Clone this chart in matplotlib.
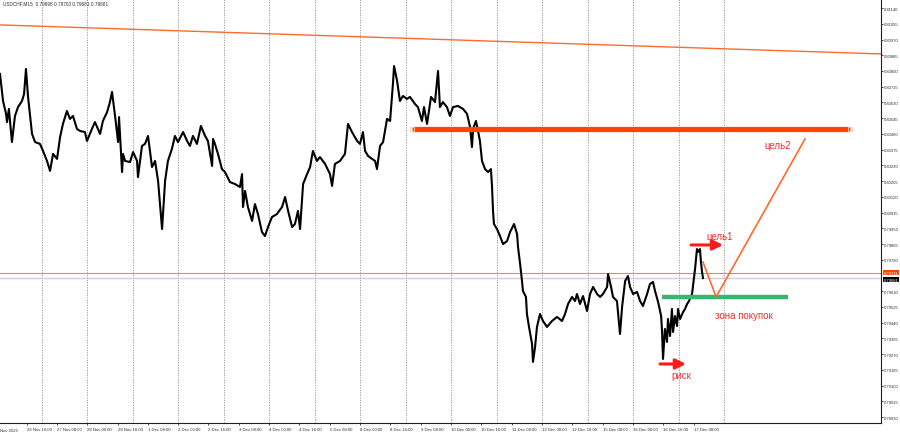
import matplotlib
matplotlib.use('Agg')
from matplotlib import pyplot as plt
from matplotlib.transforms import blended_transform_factory

plt.rcParams['font.family'] = ['Liberation Sans', 'DejaVu Sans']

# time axis: trading hours counted from 26 Nov 00:00 (weekends removed)
hours = [2.0, 3.6, 5.2, 5.7, 6.7, 8.3, 9.9, 11.5, 13.6, 14.7, 15.7, 16.8, 18.9, 20.5,
         23.1, 24.7, 26.8, 28.4, 30.0, 32.1, 33.7, 35.2, 37.3, 38.9, 40.5, 42.6, 44.2,
         46.8, 47.9, 50.5, 52.1, 54.8, 56.3, 58.5, 60.0, 61.1, 62.7, 64.3, 64.8, 66.4,
         66.9, 68.0, 70.6, 72.2, 74.3, 74.8, 76.9, 78.5, 80.1, 82.2, 83.8, 85.4, 87.5,
         89.1, 90.6, 92.7, 94.3, 95.9, 98.6, 100.7, 102.2, 103.8, 105.9, 108.0, 110.2,
         111.7, 113.9, 114.4, 115.4, 117.0, 119.1, 120.7, 123.3, 126.0, 128.6, 129.7,
         130.2, 131.3, 132.8, 135.0, 136.5, 138.1, 140.2, 141.8, 143.4, 145.5, 148.1,
         150.8, 152.4, 154.0, 156.1, 157.6, 159.2, 160.3, 161.9, 164.0, 165.6, 167.1,
         169.2, 170.8, 173.5, 176.1, 177.2, 178.7, 181.4, 184.0, 185.6, 187.7, 190.4,
         191.9, 193.5, 194.6, 196.2, 198.3, 199.9, 200.9, 202.5, 204.1, 206.2, 207.8,
         209.3, 209.9, 211.5, 213.0, 214.6, 216.7, 218.3, 220.9, 222.5, 224.6, 225.7,
         227.3, 229.4, 231.5, 233.1, 234.1, 235.7, 237.8, 239.4, 241.0, 243.6, 246.3,
         248.4, 250.0, 251.0, 251.6, 253.1, 254.2, 255.2, 256.3, 257.9, 259.5, 261.0,
         261.6, 262.1, 262.6, 264.2, 265.8, 267.4, 269.5, 271.1, 273.2, 274.8, 275.3,
         276.4, 277.4, 277.9, 279.5, 280.0, 281.1, 282.7, 283.2, 284.3, 285.3, 286.9,
         288.5, 290.6, 293.2, 295.9, 298.5, 300.1, 301.7, 303.8, 305.4, 306.4, 308.0,
         309.6, 311.7, 313.3, 314.9, 317.0, 318.6, 320.1, 322.3, 322.8, 324.4, 325.4,
         327.5, 329.1, 330.2, 331.8, 333.3, 334.4, 336.0, 338.1, 339.7, 341.2, 343.4,
         344.9, 346.5, 347.6, 349.2, 350.8, 351.3, 351.8, 352.8, 353.9, 354.4, 355.5,
         356.5, 357.1, 358.1, 359.2, 359.7, 360.8, 362.4, 363.4, 364.5, 365.5, 367.1,
         367.6, 368.7, 369.7, 370.3, 371.3, 371.8, 372.4, 372.9]
prices = [0.80784, 0.80638, 0.80568, 0.80524, 0.80595, 0.80416, 0.80557, 0.80605, 0.80638,
          0.80676, 0.80811, 0.80660, 0.80460, 0.80416, 0.80406, 0.80368, 0.80314, 0.80260,
          0.80352, 0.80325, 0.80443, 0.80514, 0.80584, 0.80541, 0.80557, 0.80487, 0.80476,
          0.80470, 0.80422, 0.80487, 0.80524, 0.80460, 0.80530, 0.80578, 0.80632, 0.80687,
          0.80557, 0.80416, 0.80551, 0.80254, 0.80352, 0.80314, 0.80308, 0.80362, 0.80314,
          0.80227, 0.80395, 0.80406, 0.80449, 0.80281, 0.80314, 0.80206, 0.79946, 0.80206,
          0.80314, 0.80379, 0.80449, 0.80416, 0.80470, 0.80422, 0.80395, 0.80449, 0.80406,
          0.80503, 0.80449, 0.80422, 0.80287, 0.80433, 0.80406, 0.80352, 0.80270, 0.80254,
          0.80200, 0.80189, 0.80173, 0.80243, 0.80065, 0.80152, 0.80065, 0.79990, 0.80081,
          0.80027, 0.79930, 0.79908, 0.79957, 0.80011, 0.80027, 0.80065, 0.80119, 0.80044,
          0.79957, 0.79973, 0.80044, 0.79946, 0.80189, 0.80243, 0.80281, 0.80368, 0.80314,
          0.80335, 0.80298, 0.80243, 0.80179, 0.80298, 0.80314, 0.80352, 0.80514, 0.80470,
          0.80422, 0.80406, 0.80470, 0.80368, 0.80341, 0.80325, 0.80314, 0.80270, 0.80395,
          0.80416, 0.80541, 0.80530, 0.80730, 0.80827, 0.80746, 0.80638, 0.80665, 0.80649,
          0.80660, 0.80622, 0.80605, 0.80530, 0.80605, 0.80514, 0.80660, 0.80632, 0.80800,
          0.80605, 0.80632, 0.80605, 0.80557, 0.80605, 0.80611, 0.80595, 0.80568, 0.80497,
          0.80389, 0.80487, 0.80530, 0.80476, 0.80422, 0.80314, 0.80270, 0.80254, 0.80270,
          0.80173, 0.80044, 0.79973, 0.79946, 0.79908, 0.79865, 0.79881, 0.79930, 0.79973,
          0.79919, 0.79849, 0.79757, 0.79665, 0.79611, 0.79579, 0.79487, 0.79417, 0.79325,
          0.79228, 0.79309, 0.79417, 0.79487, 0.79449, 0.79417, 0.79449, 0.79471, 0.79449,
          0.79487, 0.79541, 0.79579, 0.79557, 0.79595, 0.79541, 0.79584, 0.79503, 0.79595,
          0.79633, 0.79595, 0.79579, 0.79595, 0.79633, 0.79703, 0.79633, 0.79579, 0.79557,
          0.79379, 0.79525, 0.79665, 0.79692, 0.79633, 0.79595, 0.79606, 0.79557, 0.79530,
          0.79595, 0.79649, 0.79660, 0.79611, 0.79552, 0.79476, 0.79390, 0.79244, 0.79406,
          0.79336, 0.79460, 0.79368, 0.79514, 0.79390, 0.79476, 0.79422, 0.79514, 0.79460,
          0.79498, 0.79514, 0.79541, 0.79557, 0.79595, 0.79638, 0.79730, 0.79838, 0.79822,
          0.79838, 0.79768, 0.79714, 0.79681]

price_ticks = [0.81140, 0.81055, 0.80970, 0.80885, 0.80800, 0.80715, 0.80630, 0.80545,
               0.80460, 0.80375, 0.80290, 0.80205, 0.80120, 0.80035, 0.79950, 0.79865,
               0.79780, 0.79610, 0.79525, 0.79440, 0.79355, 0.79270, 0.79185, 0.79100,
               0.79015, 0.78930]
time_ticks = [16, 32, 48, 64, 80, 96, 112, 128, 144, 160, 176, 192, 208, 224, 240, 256,
              272, 288, 304, 320, 336, 352, 368]
time_labels = ['26 Nov 16:00', '27 Nov 08:00', '28 Nov 00:00', '28 Nov 16:00', '1 Dec 08:00',
               '2 Dec 00:00', '2 Dec 16:00', '3 Dec 08:00', '4 Dec 00:00', '4 Dec 16:00',
               '5 Dec 08:00', '8 Dec 00:00', '8 Dec 16:00', '9 Dec 08:00', '10 Dec 00:00',
               '10 Dec 16:00', '11 Dec 08:00', '12 Dec 00:00', '12 Dec 16:00', '15 Dec 08:00',
               '16 Dec 00:00', '16 Dec 16:00', '17 Dec 08:00']
day_starts = [24 * k for k in range(1, 17)]

trend_t = [2.0, 466.8]
trend_p = [0.81049, 0.80892]
target2_level = 0.80487
target2_span = [219.4, 450.5]
buy_level = 0.79579
buy_span = [351.3, 417.7]
path_t = [372.9, 379.8, 426.7]
path_p = [0.79768, 0.79579, 0.80433]
level_line = 0.79711
bid = 0.79681

fig = plt.figure(figsize=(9, 4.35), dpi=100)
ax = fig.add_axes([0, 11 / 435, 881 / 900, 424 / 435])
ax.set_xlim(2.0, 466.8)
ax.set_ylim(0.78898, 0.81189)

for d in day_starts:
    ax.axvline(d, color='#909090', lw=0.6, ls=(0, (1.5, 1.5)), zorder=0)

ax.axhline(bid, color='#D0D0D0', lw=1.0, zorder=1)
ax.axhline(level_line, color='#FF8050', lw=0.8, zorder=1)
ax.plot(trend_t, trend_p, color='#FF6A30', lw=1.0, zorder=2)

ax.plot(hours, prices, color='black', lw=1.5, zorder=3)

ax.plot(target2_span, [target2_level] * 2, color='#FF4500', lw=3.8, solid_capstyle='butt', zorder=4)
ax.plot(target2_span, [target2_level] * 2, ls='none', marker='s', ms=2.5,
        mfc='none', mec='#FFD0B0', mew=0.6, zorder=5)
ax.plot(buy_span, [buy_level] * 2, color='#3CB371', lw=3.2, solid_capstyle='butt', zorder=4)
ax.plot(path_t, path_p, color='#FF6A30', lw=1.2, zorder=4)

arrow = dict(arrowstyle='-|>,head_length=0.6,head_width=0.3', color='#FF1A1A', lw=2.2,
             shrinkA=0, shrinkB=0)
ax.annotate('', xy=(383.5, 0.79860), xytext=(366.6, 0.79860), arrowprops=arrow, zorder=6)
ax.annotate('', xy=(363.9, 0.79217), xytext=(350.2, 0.79217), arrowprops=arrow, zorder=6)

red = '#F03030'
ax.text(381.9, 0.79908, 'цель1', color=red, fontsize=7, ha='center', va='center')
ax.text(361.3, 0.79157, 'риск', color=red, fontsize=7, ha='center', va='center')
ax.text(394.5, 0.79482, 'зона покупок', color=red, fontsize=7, ha='center', va='center')
ax.text(412.5, 0.80400, 'цель2', color=red, fontsize=7, ha='center', va='center')

ax.text(0.003, 0.997, 'USDCHF,M15  0.79698 0.79703 0.79681 0.79681', transform=ax.transAxes,
        fontsize=3.4, color='#303030', ha='left', va='top')

for s in ['left', 'top']:
    ax.spines[s].set_visible(False)
for s in ['right', 'bottom']:
    ax.spines[s].set_color('#202020')
    ax.spines[s].set_linewidth(0.8)

ax.yaxis.tick_right()
ax.set_yticks(price_ticks)
ax.set_yticklabels(['%.5f' % v for v in price_ticks])
ax.tick_params(axis='y', labelsize=3.0, length=1.5, width=0.6, pad=0.8, colors='#303030')
ax.set_xticks(time_ticks)
ax.set_xticklabels(time_labels, ha='left')
ax.tick_params(axis='x', labelsize=3.1, length=1.5, width=0.6, pad=1.2, colors='#303030')
ax.text(0.0, -0.012, 'Nov 2025', transform=ax.transAxes, fontsize=3.1, color='#303030',
        ha='left', va='top')

tr = blended_transform_factory(ax.transAxes, ax.transData)
ax.text(1.003, level_line, '0.79711', transform=tr, fontsize=3.0, color='white', va='center',
        ha='left', bbox=dict(boxstyle='square,pad=0.15', fc='#FF4500', ec='none'))
ax.text(1.003, bid - 0.00008, '0.79681', transform=tr, fontsize=3.0, color='white', va='center',
        ha='left', bbox=dict(boxstyle='square,pad=0.15', fc='black', ec='none'))

fig.savefig('out.png', dpi=100)
